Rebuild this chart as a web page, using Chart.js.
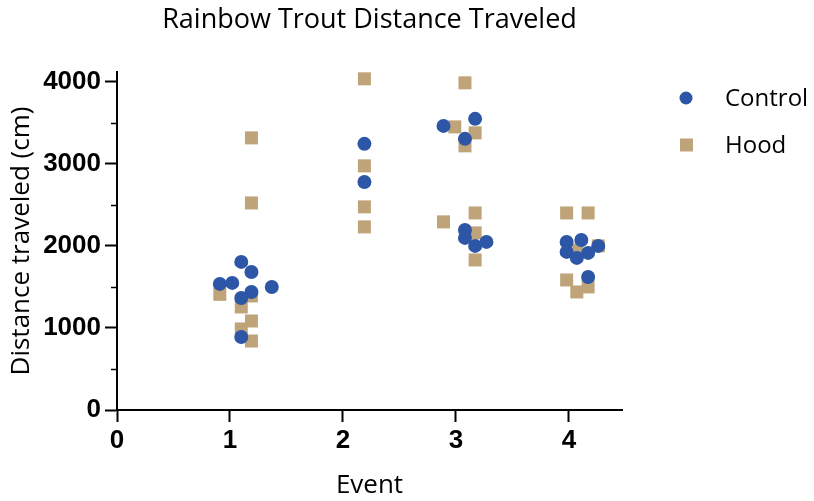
<!DOCTYPE html>
<html>
<head>
<meta charset="utf-8">
<script src="https://cdn.jsdelivr.net/npm/chart.js@4/dist/chart.umd.min.js"></script>
<style>
  html, body { margin: 0; padding: 0; background: #fff; }
  #wrap { width: 814px; height: 501px; }
</style>
</head>
<body>
<div id="wrap"><canvas id="troutChart" width="814" height="501"></canvas></div>
<script>
const titleText = 'Rainbow Trout Distance Traveled';
const seriesNames = ['Control', 'Hood'];

// x = event number (with the horizontal scatter of the original), y = distance in cm
const controlX = [0.91, 1.02, 1.10, 1.19, 1.37, 1.19, 1.10, 1.10,
                  2.19, 2.19,
                  2.89, 3.17, 3.08, 3.08, 3.08, 3.17, 3.27,
                  3.98, 4.11, 4.26, 3.98, 4.07, 4.17, 4.17];
const controlY = [1537, 1549, 1805, 1683, 1500, 1439, 1366, 890,
                  3244, 2780,
                  3463, 3549, 3305, 2195, 2098, 2000, 2049,
                  2049, 2073, 2000, 1927, 1854, 1915, 1622];

const hoodX = [0.91, 1.10, 1.19, 1.19, 1.10, 1.19, 1.19, 1.19,
               2.19, 2.19, 2.19, 2.19,
               3.08, 2.99, 3.17, 3.08, 3.17, 2.89, 3.17, 3.17,
               3.98, 4.17, 3.98, 4.07, 4.17, 4.26, 4.07];
const hoodY = [1410, 1256, 1390, 1085, 988, 841, 2524, 3317,
               4037, 2976, 2476, 2232,
               3988, 3451, 3378, 3220, 2402, 2293, 2159, 1829,
               2402, 2402, 1585, 1439, 1500, 2000, 1950];

const xTicks = [0, 1, 2, 3, 4];
const yTicks = [0, 1000, 2000, 3000, 4000];
const yMinorTicks = [500, 1500, 2500, 3500];

const blue = '#2D56A6';
const tan = '#BFA47A';
const textFont = '"Open Sans", sans-serif';
const tickFont = '"Liberation Sans", Arial, sans-serif';

const toPoints = (xs, ys) => xs.map((x, i) => ({ x, y: ys[i] }));

// title, legend and short minor ticks on the y axis
const extras = {
    id: 'extras',
    afterDraw(chart) {
        const ctx = chart.ctx;
        const area = chart.chartArea;
        const yScale = chart.scales.y;
        ctx.save();
        ctx.strokeStyle = '#000';
        ctx.lineWidth = 1.5;
        yMinorTicks.forEach((v) => {
            const py = Math.round(yScale.getPixelForValue(v)) + 0.5;
            ctx.beginPath();
            ctx.moveTo(area.left - 6, py);
            ctx.lineTo(area.left, py);
            ctx.stroke();
        });

        ctx.fillStyle = '#000';
        ctx.font = '27px ' + textFont;
        ctx.textAlign = 'center';
        ctx.textBaseline = 'middle';
        ctx.fillText(titleText, (area.left + area.right) / 2, 20);

        ctx.textAlign = 'left';
        ctx.font = '24px ' + textFont;
        chart.data.datasets.forEach((ds, i) => {
            const cy = 98 + i * 47;
            ctx.fillStyle = ds.backgroundColor;
            if (ds.pointStyle === 'rect') {
                ctx.fillRect(680, cy - 6.5, 13, 13);
            } else {
                ctx.beginPath();
                ctx.arc(686, cy, 6.5, 0, Math.PI * 2);
                ctx.fill();
            }
            ctx.fillStyle = '#000';
            ctx.fillText(ds.label, 725, cy + 1);
        });
        ctx.restore();
    },
};

new Chart(document.getElementById('troutChart'), {
    type: 'scatter',
    data: {
        datasets: [
            {
                label: seriesNames[0],
                data: toPoints(controlX, controlY),
                backgroundColor: blue,
                borderWidth: 0,
                pointStyle: 'circle',
                pointRadius: 7,
            },
            {
                label: seriesNames[1],
                data: toPoints(hoodX, hoodY),
                backgroundColor: tan,
                borderWidth: 0,
                pointStyle: 'rect',
                pointRadius: 9.2,
            },
        ],
    },
    options: {
        responsive: false,
        animation: false,
        events: [],
        layout: { padding: { top: 72, right: 192, left: 0, bottom: 0 } },
        plugins: {
            legend: { display: false },
            title: { display: false },
            tooltip: { enabled: false },
        },
        scales: {
            x: {
                type: 'linear',
                min: 0,
                max: 4.47,
                afterBuildTicks: (scale) => { scale.ticks = xTicks.map((v) => ({ value: v })); },
                afterFit: (scale) => { scale.height = 91; },
                border: { color: '#000', width: 2 },
                grid: { drawOnChartArea: false, drawTicks: true, tickLength: 12, color: '#000', tickWidth: 2 },
                ticks: {
                    color: '#000',
                    padding: 3,
                    font: { family: tickFont, size: 26, weight: 'bold' },
                    callback: (v) => String(v),
                },
                title: {
                    display: true,
                    text: 'Event',
                    color: '#000',
                    font: { family: textFont, size: 26 },
                    padding: { top: 0, bottom: 0 },
                },
            },
            y: {
                type: 'linear',
                min: 0,
                max: 4120,
                afterBuildTicks: (scale) => { scale.ticks = yTicks.map((v) => ({ value: v })); },
                afterFit: (scale) => { scale.width = 117; },
                border: { color: '#000', width: 2 },
                grid: { drawOnChartArea: false, drawTicks: true, tickLength: 12, color: '#000', tickWidth: 2 },
                ticks: {
                    color: '#000',
                    padding: 4,
                    font: { family: tickFont, size: 26, weight: 'bold' },
                    callback: (v) => String(v),
                },
                title: {
                    display: true,
                    text: 'Distance traveled (cm)',
                    color: '#000',
                    font: { family: textFont, size: 26 },
                    padding: { top: 6, bottom: 6 },
                },
            },
        },
    },
    plugins: [extras],
});
</script>
</body>
</html>
